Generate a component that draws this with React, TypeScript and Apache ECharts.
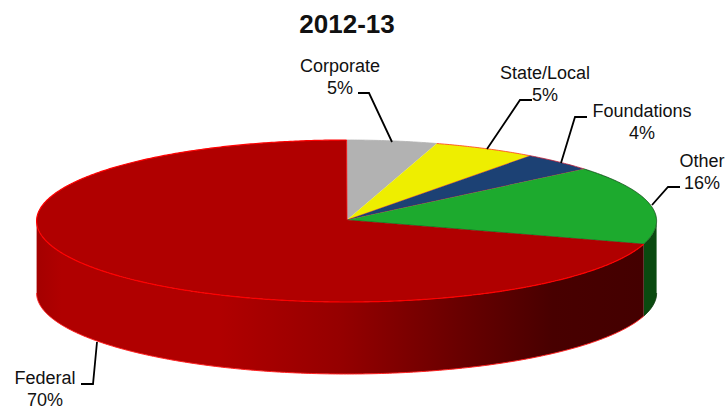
import React, { useEffect, useRef } from "react";
import * as echarts from "echarts";

const chartTitle = "2012-13";
const categories = ["Corporate", "State/Local", "Foundations", "Other", "Federal"];
const shares = [4.7, 5.4, 3.8, 15.7, 70.4];

const topColors = ["#b2b2b2", "#eeee00", "#1c4174", "#1daa2e", "#b00000"];
const edgeColors = ["#b2b2b2", "#ff3a1a", "#c0203a", "#0d4a14", "#ff0000"];
const labelCentres = [[340, 77], [545, 84], [642, 122], [702, 172], [45, 389]];
const leaders = [
  [[358, 93], [369, 93], [392, 142]],
  [[532, 100], [520, 100], [487, 149]],
  [[587, 117], [575, 117], [561, 163]],
  [[680, 187], [668, 187], [652, 205]],
  [[81, 384], [93, 384], [97, 342]],
];

const CX = 346.6, CY = 221, RX = 310, RY = 81, DEPTH = 72;
const APEX = [347, 220];
const rad = (deg: number) => (deg * Math.PI) / 180;
const pt = (deg: number, dy = 0) => [CX + RX * Math.sin(rad(deg)), CY - RY * Math.cos(rad(deg)) + dy];
const arc = (a: number, b: number, dy = 0) => {
  const n = Math.max(2, Math.ceil(Math.abs(b - a) * 2));
  const out: number[][] = [];
  for (let i = 0; i <= n; i++) out.push(pt(a + ((b - a) * i) / n, dy));
  return out;
};

const total = shares.reduce((s, v) => s + v, 0);
let running = 0;
const sliceRows = shares.map((v, i) => {
  const start = (running / total) * 360;
  running += v;
  return [i, start, (running / total) * 360, v];
});

const redSide = new echarts.graphic.LinearGradient(0, 0, 1, 0, [
  { offset: 0, color: "#a40000" },
  { offset: 0.04, color: "#b00000" },
  { offset: 0.3, color: "#b00000" },
  { offset: 0.5, color: "#950000" },
  { offset: 0.7, color: "#680000" },
  { offset: 0.85, color: "#480000" },
  { offset: 1, color: "#440000" },
]);

function renderSide(_: any, api: any) {
  const i = api.value(0), a = Math.max(api.value(1), 90), b = Math.min(api.value(2), 270);
  if (b <= a) return { type: "group", children: [] };
  const top = arc(a, b);
  const bottom = arc(a, b, DEPTH);
  const isRed = i === 4;
  return {
    type: "group",
    children: [
      {
        type: "polygon",
        shape: { points: [...top, ...bottom.reverse()] },
        style: { fill: isRed ? redSide : "#0a4a10", stroke: null },
      },
      {
        type: "polyline",
        shape: { points: arc(a, b, DEPTH) },
        style: { fill: null, stroke: isRed ? "#ff2020" : "#0a3a0c", lineWidth: 1 },
      },
    ],
  };
}

function renderTop(_: any, api: any) {
  const i = api.value(0), a = api.value(1), b = api.value(2);
  const rim = arc(a, b);
  return {
    type: "group",
    children: [
      {
        type: "polygon",
        shape: { points: [APEX, ...rim] },
        style: { fill: topColors[i], stroke: null },
      },
      {
        type: "polyline",
        shape: { points: rim },
        style: { fill: null, stroke: edgeColors[i], lineWidth: i === 4 ? 1.2 : 0.8 },
      },
      {
        type: "polyline",
        shape: { points: [APEX, pt(b)] },
        style: { fill: null, stroke: i === 3 ? "#0d4a14" : edgeColors[i], lineWidth: i === 0 ? 0 : 0.7 },
      },
    ],
  };
}

export default function App() {
  const ref = useRef<HTMLDivElement>(null);
  useEffect(() => {
    document.body.style.margin = "0";
    const chart = echarts.init(ref.current!, null, { renderer: "svg" });
    const textStyle = { fontFamily: "Liberation Sans", fontSize: 18, fill: "#111", textAlign: "center" as const, lineHeight: 22 };
    chart.setOption({
      animation: false,
      backgroundColor: "#fff",
      title: {
        text: chartTitle,
        left: 342,
        top: 6,
        textAlign: "center",
        textStyle: { fontFamily: "Liberation Sans", fontWeight: "bold", fontSize: 26, color: "#111" },
      },
      series: [
        { type: "custom", coordinateSystem: "none", renderItem: renderSide, data: sliceRows, silent: true, z: 2 },
        { type: "custom", coordinateSystem: "none", renderItem: renderTop, data: sliceRows, silent: true, z: 3 },
      ],
      graphic: [
        ...leaders.map((points) => ({
          type: "polyline",
          z: 5,
          shape: { points },
          style: { fill: null, stroke: "#000", lineWidth: 1.8 },
        })),
        ...categories.map((c, i) => ({
          type: "text",
          z: 6,
          x: labelCentres[i][0],
          y: labelCentres[i][1],
          style: { ...textStyle, text: `${c}\n${Math.round(shares[i])}%`, textVerticalAlign: "middle" },
        })),
      ],
    });
    return () => chart.dispose();
  }, []);
  return <div ref={ref} style={{ width: 726, height: 410 }} />;
}
